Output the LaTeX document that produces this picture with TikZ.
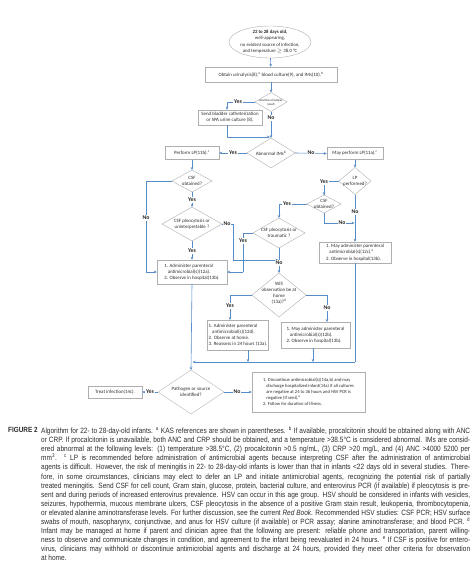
\documentclass[tikz,border=0pt]{standalone}
\usepackage{fontspec}
\setmainfont{Carlito}
\newfontfamily\capfont{Liberation Sans}[FakeStretch=0.85]
\usetikzlibrary{shapes.geometric,arrows.meta,calc}
\definecolor{lc}{RGB}{86,140,200}
\definecolor{bc}{RGB}{175,175,175}
\definecolor{tc}{RGB}{45,45,45}
\newcommand{\dfont}{\color{tc}\fontsize{4.9}{6.2}\selectfont}
\newcommand{\sfontd}{\color{tc}\fontsize{4.6}{5.9}\selectfont}
\newcommand{\ynfont}{\color{tc}\bfseries\fontsize{5.8}{6}\selectfont}
\tikzset{
  conn/.style={draw=lc, line width=0.6pt},
  arr/.style={conn, -{Stealth[length=3pt,width=2.6pt]}},
  box/.style={draw=bc, line width=0.4pt, fill=white, inner sep=1.2pt, font=\dfont, align=left},
  dia/.style={diamond, draw=bc, line width=0.4pt, inner sep=0pt, outer sep=0pt, fill=white},
  ellshape/.style={ellipse, draw=bc, line width=0.4pt, inner sep=0pt, outer sep=0pt, fill=white},
  dtext/.style={font=\dfont, align=center, inner sep=0pt},
  yn/.style={font=\ynfont, fill=white, inner sep=0.8pt},
}
\begin{document}
\begin{tikzpicture}[x=1pt,y=-1pt]
\useasboundingbox (0,0) rectangle (474,562);
\fill[white] (0,0) rectangle (474,562);

% shapes
\node[ellshape, minimum width=82pt, minimum height=32pt] (start) at (270,42) {};
\node[dtext, font=\color{tc}\fontsize{4.8}{6.5}\selectfont] (starttxt) at (start) {\textbf{22 to 28 days old,}\\well-appearing,\\no evident source of infection,\\and temperature $\geq$ 38.0 °C};

\node[box, minimum width=132pt, minimum height=15pt, align=center] (obtain) at (271,74.5) {Obtain urinalysis(8),\textsuperscript{a} blood culture(9), and IMs(10).\textsuperscript{b}};

\node[dia, minimum width=32pt, minimum height=19pt] (uri) at (271,102) {};
\node[dtext, font=\color{tc}\fontsize{3.2}{3.8}\selectfont] (uritxt) at (uri) {positive urinalysis\\result};

\node[box, minimum width=64pt, minimum height=15pt, align=center, inner sep=0.5pt] (send) at (230,117.5) {Send bladder catheterization\\or SPA urine culture (8).};

\node[dia, minimum width=48pt, minimum height=30pt] (abn) at (271,153) {};
\node[dtext] (abntxt) at (abn) {Abnormal IMs\textsuperscript{b}};

\node[box, minimum width=54pt, minimum height=13pt, align=center] (plp) at (192,153) {Perform LP(11b).\textsuperscript{c}};
\node[box, minimum width=56pt, minimum height=12pt, align=center] (mlp) at (355,153.5) {May perform LP(11a).\textsuperscript{c}};

\node[dia, minimum width=40pt, minimum height=22pt] (csfl) at (192,181) {};
\node[dtext] (csfltxt) at (csfl) {CSF\\obtained?};

\node[dia, minimum width=60pt, minimum height=34pt] (unint) at (192,224) {};
\node[dtext] (uninttxt) at (unint) {CSF pleocytosis or\\uninterpretable ?};

\node[box, minimum width=70pt, minimum height=24pt] (b12a) at (192,272) {1. Administer parenteral\\\hspace*{0.7em}antimicrobial(s)(12a).\\2. Observe in hospital(13b).};

\node[dia, minimum width=32pt, minimum height=27pt] (lpp) at (355,181) {};
\node[dtext] (lpptxt) at (lpp) {LP\\performed?};

\node[dia, minimum width=34pt, minimum height=18pt] (csfr) at (324,204) {};
\node[dtext] (csfrtxt) at (csfr) {CSF\\obtained?};

\node[dia, minimum width=52pt, minimum height=30pt] (trau) at (279,233) {};
\node[dtext] (trautxt) at (trau) {CSF pleocytosis or\\traumatic ?};

\node[box, minimum width=72pt, minimum height=21pt] (b12c) at (355,252.5) {1. May administer parenteral\\\hspace*{0.7em}antimicrobial(s)(12c).\textsuperscript{e}\\2. Observe in hospital(13b).};

\node[dia, minimum width=54pt, minimum height=44pt] (will) at (279,295) {};
\node[dtext] (willtxt) at (279,293) {Will\\observation be at\\home\\(13a)?\textsuperscript{d}};

\node[box, minimum width=60pt, minimum height=30pt] (b12d) at (238,335) {1. Administer parenteral\\\hspace*{0.7em}antimicrobial(s)(12d).\\2. Observe at home.\\3. Reassess in 24 hours (13a).};
\node[box, minimum width=69pt, minimum height=26pt] (b12b) at (315.5,335) {1. May administer parenteral\\\hspace*{0.7em}antimicrobial(s)(12b).\\2. Observe in hospital(13b).};

\node[dia, minimum width=66pt, minimum height=44pt] (path) at (191,392) {};
\node[dtext] (pathtxt) at (path) {Pathogen or source\\identified?};

\node[box, minimum width=54pt, minimum height=12pt, align=center] (treat) at (115,392) {Treat infection(14c).};
\node[box, minimum width=113pt, minimum height=40pt, font=\sfontd] (disc) at (308.5,392) {1. Discontinue antimicrobial(s)(14a,b) and may\\\hspace*{0.7em}discharge hospitalized infant(14a) if all cultures\\\hspace*{0.7em}are negative at 24 to 36 hours and HSV PCR is\\\hspace*{0.7em}negative (if sent).\textsuperscript{e}\\2. Follow for duration of illness.};

% helper coordinates
\coordinate (uriY) at (227,102);
\coordinate (sendS) at (227,125);
\coordinate (sendJ) at (227,137);
\coordinate (sendJe) at (270,137);
\coordinate (csflW) at (146,181);
\coordinate (csflB) at (146,272);
\coordinate (unintE) at (233,224);
\coordinate (unintD) at (233,260);
\coordinate (unintJ) at (278.5,260);
\coordinate (csfrL) at (279,204);
\coordinate (csfrB) at (324,223);
\coordinate (csfrJ) at (354.5,223);
\coordinate (trauL) at (243,233);
\coordinate (trauB) at (243,272);
\coordinate (willL) at (230,295);
\coordinate (willLd) at (230,320);
\coordinate (willR) at (327,295);
\coordinate (willRd) at (327,322);
\coordinate (b12dS) at (248,350);
\coordinate (b12dJ) at (248,362);
\coordinate (b12bS) at (313,348);
\coordinate (b12bJ) at (313,362);
\coordinate (b12cJ) at (355,362);
\coordinate (mainJ) at (192.5,362);

% connectors
\draw[arr] (start) -- (obtain);
\draw[arr] (obtain) -- (uri);
\draw[conn] (uri.west) -- (uriY);
\draw[arr] (uriY) -- (send.north -| uriY);
\draw[arr] (uri.south) -- (abn.north);
\draw[conn] (send.south -| sendS) -- (sendJ);
\draw[arr] (sendJ) -- (sendJe);
\draw[arr] (abn.west) -- (plp.east);
\draw[arr] (abn.east) -- (mlp.west);
\draw[arr] (plp.south) -- (csfl.north);
\draw[arr] (csfl.south) -- (unint.north);
\draw[conn] (csfl.west) -- (csflW) -- (csflB);
\draw[arr] (csflB) -- (b12a.west);
\draw[arr] (unint.south) -- (b12a.north);
\draw[conn] (unint.east) -- (unintE) -- (unintD);
\draw[arr] (unintD) -- (unintJ);
\draw[arr] (mlp.south) -- (lpp.north);
\draw[conn] (lpp.west) -| (csfr.north);
\draw[arr] ($(csfr.north)+(0,-9)$) -- (csfr.north);
\draw[arr] (lpp.south) -- (b12c.north);
\draw[conn] (csfr.south) -- (csfrB);
\draw[arr] (csfrB) -- (csfrJ);
\draw[conn] (csfr.west) -- (csfrL);
\draw[arr] (csfrL) -- (trau.north);
\draw[conn] (trau.west) -- (trauL) -- (trauB);
\draw[arr] (trauB) -- (b12a.east);
\draw[arr] (trau.south) -- (will.north);
\draw[conn] (will.west) -- (willL);
\draw[arr] (willL) -- (willLd);
\draw[conn] (will.east) -- (willR);
\draw[arr] (willR) -- (willRd);
\draw[arr] (b12dS) -- (b12dJ);
\draw[arr] (b12bS) -- (b12bJ);
\draw[conn] (b12c.south) -- (b12cJ);
\draw[arr] (b12cJ) -- (mainJ);
\draw[arr] (b12a.south) -- (path.north);
\draw[arr] (path.west) -- (treat.east);
\draw[arr] (path.east) -- (disc.west);

% yes/no labels
\node[yn] (l1) at (238,102) {Yes};
\node[yn] (l2) at (271,118) {No};
\node[yn] (l3) at (233,153) {Yes};
\node[yn] (l4) at (311,153) {No};
\node[yn] (l5) at (192,200) {Yes};
\node[yn] (l6) at (146,218) {No};
\node[yn] (l7) at (227,224) {No};
\node[yn] (l8) at (192,251) {Yes};
\node[yn] (l9) at (324,182) {Yes};
\node[yn] (l10) at (355,212) {No};
\node[yn] (l11) at (342,223) {No};
\node[yn] (l12) at (287,204) {Yes};
\node[yn] (l13) at (243,241) {Yes};
\node[yn] (l14) at (279,263) {No};
\node[yn] (l15) at (230,306) {Yes};
\node[yn] (l16) at (327,308) {No};
\node[yn] (l17) at (150,392) {Yes};
\node[yn] (l18) at (237,392) {No};

% caption
\node[anchor=base west, inner sep=0pt, font=\capfont\bfseries\fontsize{7.5}{9}\selectfont, text=tc] (figlab) at (8,432) {FIGURE 2};
\node[anchor=north west, inner sep=0pt, text width=429pt, align=justify, text=tc,
      font=\capfont\fontsize{7.65}{9.1}\selectfont] (cap) at (41,426.6) {\tolerance=10000\hyphenpenalty=10000\relax
Algorithm for 22- to 28-day-old infants. \textsuperscript{a} KAS references are shown in parentheses. \textsuperscript{b} If available, procalcitonin should be obtained along with ANC\linebreak
or CRP. If procalcitonin is unavailable, both ANC and CRP should be obtained, and a temperature >38.5°C is considered abnormal. IMs are consid-\linebreak
ered abnormal at the following levels: (1) temperature >38.5°C, (2) procalcitonin >0.5 ng/mL, (3) CRP >20 mg/L, and (4) ANC >4000 5200 per\linebreak
mm\textsuperscript{3}. \textsuperscript{c} LP is recommended before administration of antimicrobial agents because interpreting CSF after the administration of antimicrobial\linebreak
agents is difficult. However, the risk of meningitis in 22- to 28-day-old infants is lower than that in infants <22 days old in several studies. There-\linebreak
fore, in some circumstances, clinicians may elect to defer an LP and initiate antimicrobial agents, recognizing the potential risk of partially\linebreak
treated meningitis. Send CSF for cell count, Gram stain, glucose, protein, bacterial culture, and enterovirus PCR (if available) if pleocytosis is pre-\linebreak
sent and during periods of increased enterovirus prevalence. HSV can occur in this age group. HSV should be considered in infants with vesicles,\linebreak
seizures, hypothermia, mucous membrane ulcers, CSF pleocytosis in the absence of a positive Gram stain result, leukopenia, thrombocytopenia,\linebreak
or elevated alanine aminotransferase levels. For further discussion, see the current \textit{Red Book}. Recommended HSV studies: CSF PCR; HSV surface\linebreak
swabs of mouth, nasopharynx, conjunctivae, and anus for HSV culture (if available) or PCR assay; alanine aminotransferase; and blood PCR. \textsuperscript{d}\linebreak
Infant may be managed at home if parent and clinician agree that the following are present: reliable phone and transportation, parent willing-\linebreak
ness to observe and communicate changes in condition, and agreement to the infant being reevaluated in 24 hours. \textsuperscript{e} If CSF is positive for entero-\linebreak
virus, clinicians may withhold or discontinue antimicrobial agents and discharge at 24 hours, provided they meet other criteria for observation\linebreak
at home.};
\end{tikzpicture}
\end{document}
